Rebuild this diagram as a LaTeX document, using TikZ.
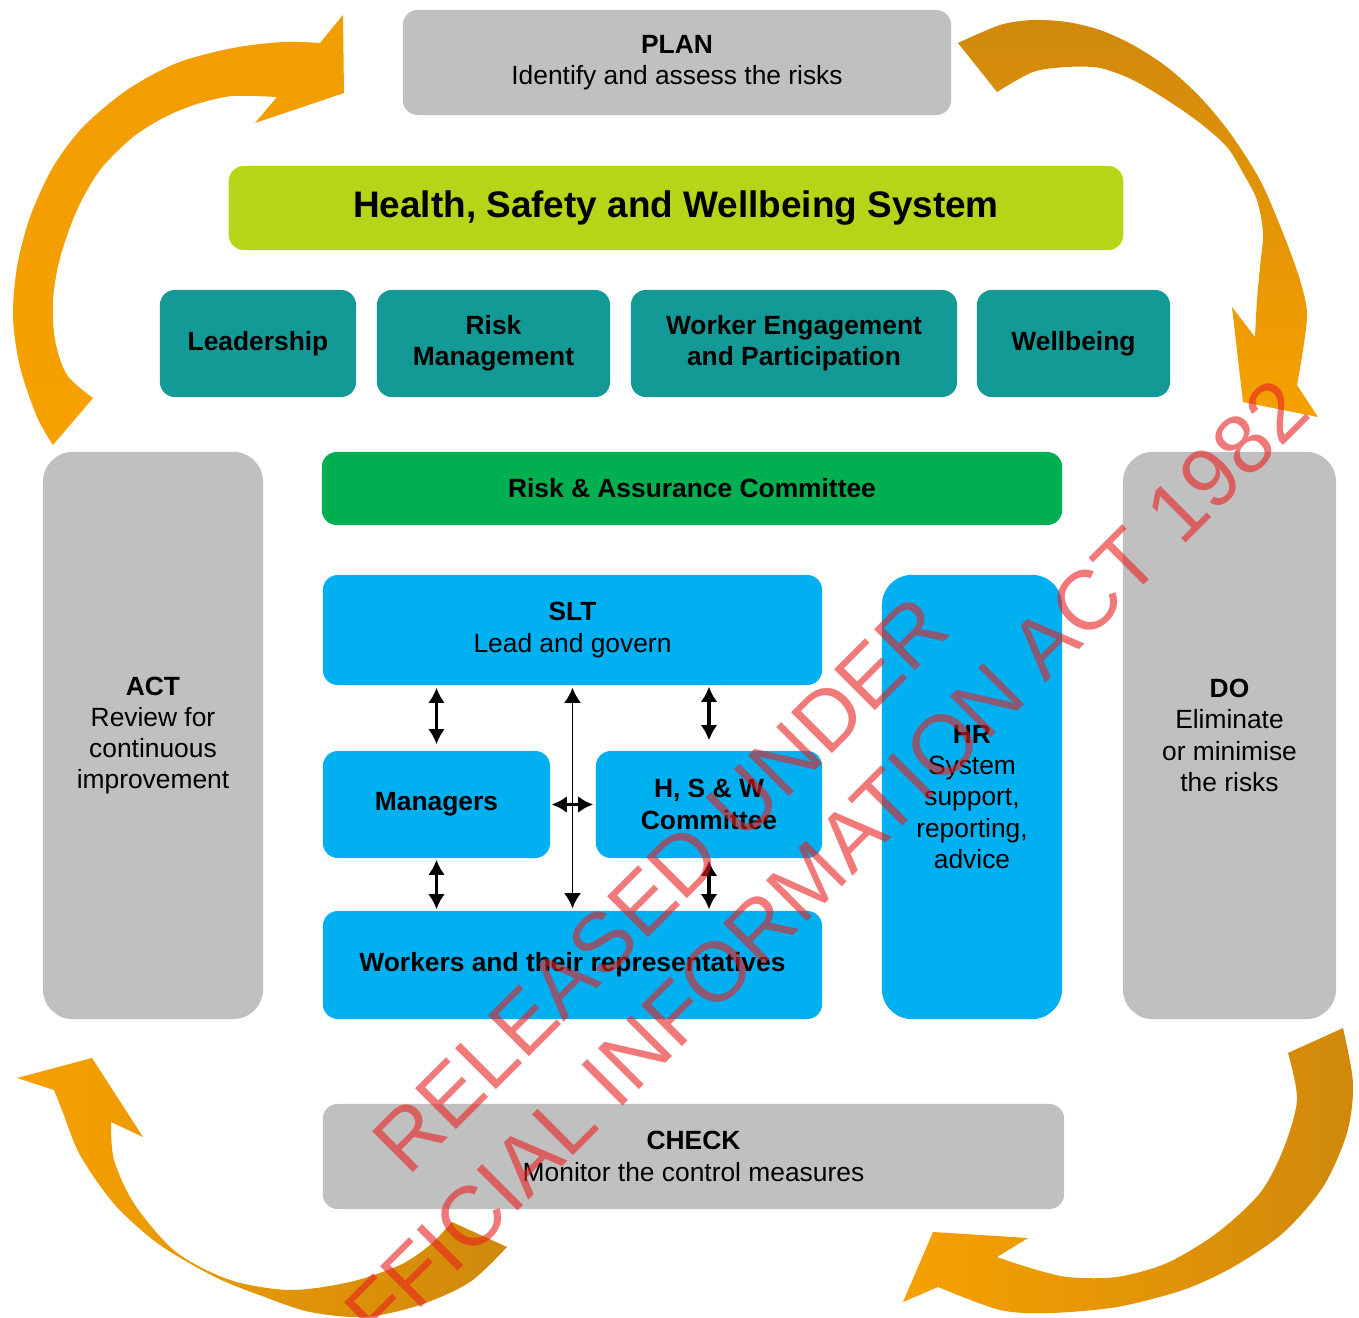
\documentclass[tikz,border=0pt]{standalone}
\usepackage{fontspec}
\setmainfont{Liberation Sans}
\usepackage{tikz}
\usetikzlibrary{arrows.meta,positioning}
\definecolor{Gris}{RGB}{192,192,192}
\definecolor{Sarcelle}{RGB}{20,154,150}
\definecolor{Citron}{RGB}{183,212,24}
\definecolor{Vert}{RGB}{0,176,80}
\definecolor{Bleu}{RGB}{0,176,240}
\definecolor{OrangeClair}{RGB}{247,161,0}
\definecolor{OrangeFonce}{RGB}{208,137,12}
\definecolor{RougeFiligrane}{RGB}{232,32,32}
\tikzset{
Boite/.style={
 rounded corners=0.15cm,
 align=center,
 inner sep=0pt,
 text=black,
 font=\fontsize{7.5}{8.9}\selectfont
 },
BoiteGrise/.style={Boite, fill=Gris},
BoiteTeal/.style={Boite, fill=Sarcelle, font=\fontsize{7.5}{8.9}\selectfont\bfseries},
BoiteVerte/.style={Boite, fill=Vert, font=\fontsize{7.5}{8.9}\selectfont\bfseries},
BoiteBleue/.style={Boite, fill=Bleu},
BoiteTitre/.style={Boite, fill=Citron, font=\fontsize{10.5}{12}\selectfont\bfseries},
Colonne/.style={rounded corners=0.3cm},
DoubleFleche/.style={
 draw=black,
 line width=1pt,
 {Latex[length=4.3pt,width=4.8pt]}-{Latex[length=4.3pt,width=4.8pt]}
 },
DoubleFlecheFine/.style={
 draw=black,
 line width=0.45pt,
 {Latex[length=4.3pt,width=4.8pt]}-{Latex[length=4.3pt,width=4.8pt]}
 },
Filigrane/.style={
 rotate=45,
 inner sep=0pt,
 text=RougeFiligrane,
 text opacity=0.6,
 font=\fontsize{23.9}{28}\selectfont
 }
}
\begin{document}
\begin{tikzpicture}[x=0.01cm,y=-0.01cm]
\useasboundingbox (0,0) rectangle (1359,1318);
\clip (0,0) rectangle (1359,1318);
\fill[white] (0,0) rectangle (1359,1318);
\shade[top color=OrangeClair!85!OrangeFonce, bottom color=OrangeClair]
 plot[smooth] coordinates {(53,445) (37,417) (20,367) (13,317) (17,267) (30,217) (53,167) (83,127) (127,90) (177,63) (233,48) (283,42) (320,43)}
 -- (343,15) -- (344,93) -- (255,123) -- (277,97)
 -- plot[smooth] coordinates {(277,97) (233,96) (200,103) (167,116) (133,137) (100,170) (77,210) (60,258) (53,300) (55,340) (67,375) (93,398)}
 -- cycle;
\shade[top color=OrangeFonce, bottom color=OrangeClair]
 plot[smooth] coordinates {(958,43) (1000,25) (1033,20) (1067,22) (1100,30) (1133,45) (1167,67) (1200,97) (1230,133) (1260,180) (1283,233) (1300,280) (1307,313) (1303,350) (1297,385)}
 -- (1318,417) -- (1243,402) -- (1232,307) -- (1255,337)
 -- plot[smooth] coordinates {(1255,337) (1257,300) (1260,267) (1263,233) (1257,200) (1243,173) (1227,147) (1200,123) (1167,100) (1133,80) (1100,68) (1067,67) (1033,72) (997,92)}
 -- cycle;
\shade[right color=OrangeFonce, left color=OrangeClair]
 plot[smooth] coordinates {(1343,1028) (1353,1083) (1347,1133) (1323,1187) (1283,1233) (1233,1267) (1183,1290) (1117,1307) (1050,1313) (1000,1310) (938,1287)}
 -- (903,1302) -- (933,1232) -- (1028,1238) -- (997,1257)
 -- plot[smooth] coordinates {(997,1257) (1027,1267) (1067,1277) (1117,1277) (1167,1263) (1217,1233) (1260,1193) (1283,1150) (1297,1100) (1288,1053)}
 -- cycle;
\shade[left color=OrangeClair, right color=OrangeFonce]
 plot[smooth] coordinates {(111,1122) (114,1160) (135,1205) (176,1252) (230,1280) (290,1290) (350,1282) (400,1265) (430,1245) (452,1222)}
 -- (507,1247)
 -- plot[smooth] coordinates {(507,1247) (470,1282) (420,1305) (365,1317) (310,1312) (262,1296) (215,1277) (160,1245) (115,1205) (80,1155) (62,1110) (54,1090)}
 -- (17,1078) -- (92,1058) -- (143,1137) -- cycle;
\node[BoiteGrise, minimum width=5.48cm, minimum height=1.05cm] (plan) at (677,62.5) {\textbf{PLAN}\\Identify and assess the risks};
\node[BoiteTitre, minimum width=8.94cm, minimum height=0.84cm] (hsw) at (676,208) {Health, Safety and Wellbeing System};
\node[BoiteTeal, minimum width=1.96cm, minimum height=1.07cm] (lead) at (258,343.5) {Leadership};
\node[BoiteTeal, minimum width=2.33cm, minimum height=1.07cm] (riskm) at (493.5,343.5) {Risk\\Management};
\node[BoiteTeal, minimum width=3.26cm, minimum height=1.07cm] (worker) at (794,343.5) {Worker Engagement\\and Participation};
\node[BoiteTeal, minimum width=1.93cm, minimum height=1.07cm] (well) at (1073.5,343.5) {Wellbeing};
\node[BoiteVerte, minimum width=7.40cm, minimum height=0.73cm] (rac) at (692,488.5) {Risk \& Assurance Committee};
\node[BoiteGrise, Colonne, minimum width=2.20cm, minimum height=5.67cm] (act) at (153,735.5) {\textbf{ACT}\\Review for\\continuous\\improvement};
\node[BoiteGrise, Colonne, minimum width=2.13cm, minimum height=5.67cm] (do) at (1229.5,735.5) {\textbf{DO}\\Eliminate\\or minimise\\the risks};
\node[BoiteBleue, minimum width=4.99cm, minimum height=1.10cm] (slt) at (572.5,630) {\textbf{SLT}\\Lead and govern};
\node[BoiteBleue, minimum width=2.27cm, minimum height=1.07cm, font=\fontsize{7.5}{8.9}\selectfont\bfseries] (mgr) at (436.5,804.5) {Managers};
\node[BoiteBleue, minimum width=2.26cm, minimum height=1.07cm, font=\fontsize{7.5}{8.9}\selectfont\bfseries] (hswc) at (709,804.5) {H, S \& W\\Committee};
\node[BoiteBleue, minimum width=4.99cm, minimum height=1.08cm, font=\fontsize{7.5}{8.9}\selectfont\bfseries] (wrk) at (572.5,965) {Workers and their representatives};
\node[BoiteBleue, Colonne, minimum width=1.80cm, minimum height=4.44cm] (hr) at (972,797) {\textbf{HR}\\System\\support,\\reporting,\\advice};
\node[BoiteGrise, minimum width=7.41cm, minimum height=1.05cm] (check) at (693.5,1156.5) {\textbf{CHECK}\\Monitor the control measures};
\draw[DoubleFleche, shorten <=0.02cm, shorten >=0.06cm] (slt.south -| mgr.north) -- (mgr.north);
\draw[DoubleFleche, shorten <=0.01cm, shorten >=0.10cm] (slt.south -| hswc.north) -- (hswc.north);
\draw[DoubleFleche, shorten <=0.01cm, shorten >=0.01cm] (mgr.south) -- (mgr.south |- wrk.north);
\draw[DoubleFleche, shorten <=0.02cm, shorten >=0.01cm] (hswc.south) -- (hswc.south |- wrk.north);
\draw[DoubleFlecheFine, shorten <=0.02cm, shorten >=0.02cm] (slt.south) -- (wrk.north);
\draw[DoubleFleche, shorten <=0.01cm, shorten >=0.02cm] (mgr.east) -- (hswc.west);
\node[Filigrane, anchor=base west] (rel) at (408,1178) {RELEASED UNDER};
\node[Filigrane, anchor=base east] (oia) at (1314,415) {OFFICIAL INFORMATION ACT 1982};
\end{tikzpicture}
\end{document}
